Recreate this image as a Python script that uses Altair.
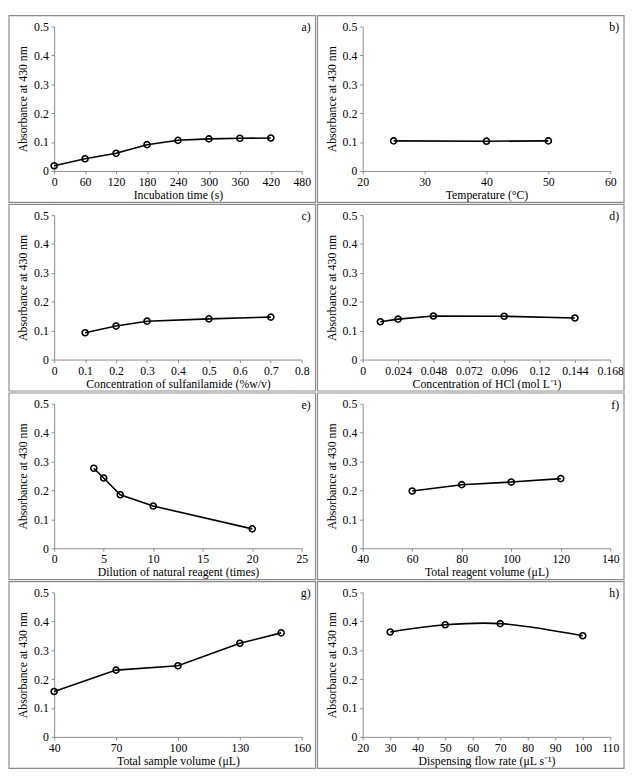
import altair as alt
import pandas as pd

# ---- data ----
a_x = [0, 60, 120, 180, 240, 300, 360, 420]
a_y = [0.018, 0.042, 0.061, 0.091, 0.106, 0.111, 0.113, 0.114]
b_x = [25, 40, 50]
b_y = [0.104, 0.103, 0.104]
c_x = [0.1, 0.2, 0.3, 0.5, 0.7]
c_y = [0.093, 0.116, 0.133, 0.141, 0.147]
d_x = [0.012, 0.024, 0.048, 0.096, 0.144]
d_y = [0.131, 0.140, 0.151, 0.150, 0.144]
e_x = [4, 5, 6.67, 10, 20]
e_y = [0.277, 0.243, 0.185, 0.146, 0.067]
f_x = [60, 80, 100, 120]
f_y = [0.198, 0.220, 0.229, 0.241]
g_x = [40, 70, 100, 130, 150]
g_y = [0.157, 0.231, 0.246, 0.324, 0.360]
h_x = [30, 50, 70, 100]
h_y = [0.363, 0.388, 0.392, 0.350]

y_ticks = [0, 0.1, 0.2, 0.3, 0.4, 0.5]

panels = [
    ("a)", a_x, a_y, "Incubation time (s)", [0, 60, 120, 180, 240, 300, 360, 420, 480], "linear"),
    ("b)", b_x, b_y, "Temperature (°C)", [20, 30, 40, 50, 60], "linear"),
    ("c)", c_x, c_y, "Concentration of sulfanilamide (%w/v)", [0, 0.1, 0.2, 0.3, 0.4, 0.5, 0.6, 0.7, 0.8], "linear"),
    ("d)", d_x, d_y, "Concentration of HCl (mol L⁻¹)", [0, 0.024, 0.048, 0.072, 0.096, 0.12, 0.144, 0.168], "linear"),
    ("e)", e_x, e_y, "Dilution of natural reagent (times)", [0, 5, 10, 15, 20, 25], "linear"),
    ("f)", f_x, f_y, "Total reagent volume (μL)", [40, 60, 80, 100, 120, 140], "linear"),
    ("g)", g_x, g_y, "Total sample volume (μL)", [40, 70, 100, 130, 160], "linear"),
    ("h)", h_x, h_y, "Dispensing flow rate (μL s⁻¹)", [20, 30, 40, 50, 60, 70, 80, 90, 100, 110], "catmull-rom"),
]

W, H = 252, 147
L, R, T, B = 46, 14, 11, 32
FONT = "Liberation Serif"
AX = "#8a8a8a"


def panel(label, xs, ys, xtitle, xticks, interp):
    df = pd.DataFrame({"x": xs, "y": ys})
    xenc = alt.X(
        "x:Q",
        scale=alt.Scale(domain=[xticks[0], xticks[-1]], nice=False, zero=False),
        axis=alt.Axis(values=xticks, labelExpr="datum.value + ''", title=xtitle),
    )
    yenc = alt.Y(
        "y:Q",
        scale=alt.Scale(domain=[0, 0.5], nice=False),
        axis=alt.Axis(values=y_ticks, labelExpr="datum.value + ''", title="Absorbance at 430 nm"),
    )
    base = alt.Chart(df)
    line = base.mark_line(color="black", strokeWidth=1.6, interpolate=interp).encode(x=xenc, y=yenc)
    pts = base.mark_point(shape="circle", size=38, color="black", strokeWidth=1.6, filled=False, opacity=1).encode(x=xenc, y=yenc)
    lab = alt.Chart(pd.DataFrame({"t": [label]})).mark_text(
        align="right", baseline="middle", font=FONT, fontSize=12, color="black"
    ).encode(text="t:N", x=alt.value(W + 9), y=alt.value(1))
    border = alt.Chart(pd.DataFrame({"t": [0]})).mark_rect(
        fill=None, stroke="#8c8c8c", strokeWidth=1.2
    ).encode(
        x=alt.value(-L), x2=alt.value(W + R), y=alt.value(-T), y2=alt.value(H + B)
    )
    return alt.layer(border, line, pts, lab).properties(width=W, height=H)


charts = [panel(*p) for p in panels]
rows = [alt.hconcat(charts[i], charts[i + 1], spacing=0) for i in range(0, 8, 2)]
chart = alt.vconcat(*rows, spacing=0).properties(padding=0).configure_view(stroke=None).configure_axis(
    grid=False,
    domainColor=AX,
    tickColor=AX,
    tickSize=3,
    labelFont=FONT,
    labelFontSize=12,
    labelColor="black",
    labelPadding=3,
    labelOverlap=False,
    labelFlush=False,
    titleFont=FONT,
    titleFontSize=12,
    titleFontWeight="normal",
    titleColor="black",
).configure_axisY(titlePadding=4).configure_axisX(titlePadding=2).configure_concat(spacing=0)

chart.save("out.html", embed_options={"renderer": "svg", "actions": False})
